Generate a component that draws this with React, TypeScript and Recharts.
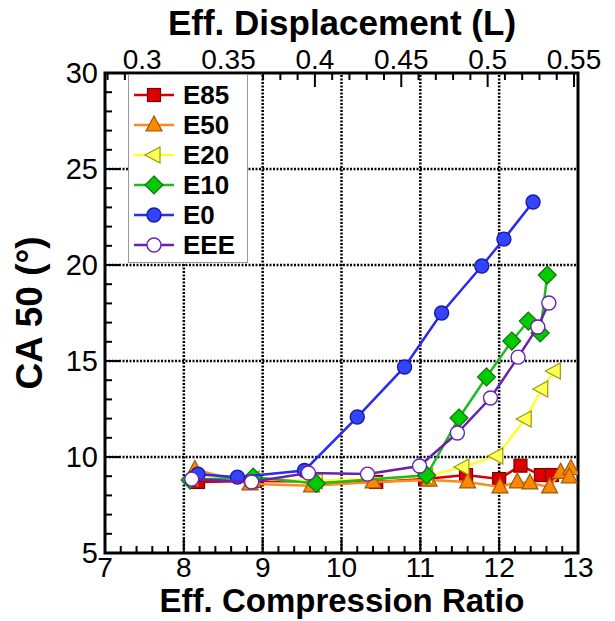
import React from 'react';
import { ScatterChart, Scatter, XAxis, YAxis, ReferenceLine, ReferenceArea } from 'recharts';

// ---- data (Eff. compression ratio, CA50 deg) ----
const E85 = [[8.18, 8.7], [8.9, 8.75], [10.44, 8.7], [11.06, 8.85], [11.58, 9.06], [12.0, 8.85], [12.27, 9.55], [12.53, 9.06], [12.67, 9.06]];
const E50 = [[8.14, 9.35], [8.84, 8.6], [9.62, 8.5], [10.4, 8.7], [11.11, 8.8], [11.6, 8.7], [12.01, 8.44], [12.23, 8.7], [12.39, 8.65], [12.64, 8.44], [12.78, 9.2], [12.91, 9.4], [12.89, 8.96]];
const E20 = [[8.1, 8.9], [8.88, 8.85], [9.68, 8.75], [11.08, 9.0], [11.54, 9.48], [11.97, 10.05], [12.33, 11.98], [12.54, 13.54], [12.7, 14.48]];
const E10 = [[8.08, 8.8], [8.88, 8.95], [9.68, 8.62], [11.08, 9.05], [11.49, 12.03], [11.84, 14.17], [12.16, 16.04], [12.37, 17.08], [12.52, 16.46], [12.61, 19.48]];
const E0 = [[8.18, 9.1], [8.68, 8.95], [9.53, 9.3], [10.2, 12.08], [10.8, 14.69], [11.27, 17.5], [11.78, 19.95], [12.06, 21.35], [12.43, 23.28]];
const EEE = [[8.1, 8.85], [8.86, 8.7], [9.58, 9.17], [10.33, 9.11], [10.99, 9.53], [11.47, 11.25], [11.89, 13.07], [12.24, 15.2], [12.49, 16.77], [12.63, 18.02]];

const seriesNames = ['E85', 'E50', 'E20', 'E10', 'E0', 'EEE'];
const seriesData = [E85, E50, E20, E10, E0, EEE];

const crMajor = [7, 8, 9, 10, 11, 12, 13];
const caMajor = [5, 10, 15, 20, 25, 30];
const dispMajor = [0.3, 0.35, 0.4, 0.45, 0.5, 0.55];
const crGrid = [8, 9, 10, 11, 12];
const caGrid = [10, 15, 20, 25];

const crTicks: number[] = [];
for (let i = 0; i <= 30; i++) crTicks.push(+(7 + i * 0.2).toFixed(2));
const caTicks: number[] = [];
for (let i = 5; i <= 30; i++) caTicks.push(i);
const dispTicks: number[] = [];
for (let i = 28; i <= 55; i++) dispTicks.push(+(i / 100).toFixed(2));

const styles: Record<string, any> = {
  E85: { line: '#d40000', fill: '#dd0000', stroke: '#7a0000', shape: 'square' },
  E50: { line: '#ff8a1c', fill: '#ff8800', stroke: '#9a5a10', shape: 'triUp' },
  E20: { line: '#ffff30', fill: '#ffff55', stroke: '#9a9a10', shape: 'triLeft' },
  E10: { line: '#22b822', fill: '#00cc00', stroke: '#137013', shape: 'diamond' },
  E0: { line: '#2a2af0', fill: '#3344ff', stroke: '#1a1aa0', shape: 'circle' },
  EEE: { line: '#6a20b0', fill: '#ffffff', stroke: '#6a20b0', shape: 'circle' },
};

const FONT = '"Liberation Sans", Arial, Helvetica, sans-serif';

function Marker({ cx, cy, name }: { cx: number; cy: number; name: string }) {
  const s = styles[name];
  const sw = 1.2;
  switch (s.shape) {
    case 'square':
      return <rect x={cx - 6.5} y={cy - 6.5} width={13} height={13} fill={s.fill} stroke={s.stroke} strokeWidth={sw} />;
    case 'triUp':
      return <polygon points={`${cx},${cy - 9} ${cx - 8},${cy + 6} ${cx + 8},${cy + 6}`} fill={s.fill} stroke={s.stroke} strokeWidth={sw} />;
    case 'triLeft':
      return <polygon points={`${cx - 9},${cy} ${cx + 6},${cy - 8} ${cx + 6},${cy + 8}`} fill={s.fill} stroke={s.stroke} strokeWidth={sw} />;
    case 'diamond':
      return <polygon points={`${cx},${cy - 9} ${cx + 9},${cy} ${cx},${cy + 9} ${cx - 9},${cy}`} fill={s.fill} stroke={s.stroke} strokeWidth={sw} />;
    default:
      return <circle cx={cx} cy={cy} r={7} fill={s.fill} stroke={s.stroke} strokeWidth={1.4} />;
  }
}

const isMajor = (v: number, arr: number[]) => arr.some((m) => Math.abs(m - v) < 1e-6);

const LeftTick = (p: any) => {
  const { x, y, payload } = p;
  const v = payload.value;
  const major = isMajor(v, caMajor);
  return (
    <g>
      <line x1={x} x2={x + (major ? 14 : 7)} y1={y} y2={y} stroke="#000" strokeWidth={2} />
      {major && (
        <text x={x - 7} y={y + 10} textAnchor="end" fontFamily={FONT} fontSize={29} fill="#000">
          {v}
        </text>
      )}
    </g>
  );
};

const BottomTick = (p: any) => {
  const { x, y, payload } = p;
  const v = payload.value;
  const major = isMajor(v, crMajor);
  return (
    <g>
      <line x1={x} x2={x} y1={y} y2={y - (major ? 14 : 7)} stroke="#000" strokeWidth={2} />
      {major && (
        <text x={x} y={y + 24} textAnchor="middle" fontFamily={FONT} fontSize={28} fill="#000">
          {v}
        </text>
      )}
    </g>
  );
};

const TopTick = (p: any) => {
  const { x, y, payload } = p;
  const v = payload.value;
  const major = isMajor(v, dispMajor);
  return (
    <g>
      <line x1={x} x2={x} y1={y} y2={y + (major ? 14 : 7)} stroke="#000" strokeWidth={2} />
      {major && (
        <text x={x} y={y - 4} textAnchor="middle" fontFamily={FONT} fontSize={28} fill="#000">
          {v}
        </text>
      )}
    </g>
  );
};

function LegendBox() {
  return (
    <div
      style={{
        position: 'absolute',
        left: 128,
        top: 74,
        width: 120,
        height: 189,
        background: '#fff',
        border: '1.5px solid #999',
        boxSizing: 'border-box',
      }}
    >
      <svg width={120} height={189}>
        {seriesNames.map((n, i) => {
          const y = 20 + i * 30;
          return (
            <g key={n}>
              <line x1={5} x2={45} y1={y} y2={y} stroke={styles[n].line} strokeWidth={2.5} />
              <Marker cx={25} cy={y} name={n} />
              <text x={54} y={y + 9} fontFamily={FONT} fontWeight="bold" fontSize={26} fill="#000">
                {n}
              </text>
            </g>
          );
        })}
      </svg>
    </div>
  );
}

const dispAnchor = dispMajor.map((x) => ({ x, y: 5 }));

export default function App() {
  return (
    <div style={{ position: 'absolute', left: 0, top: 0, width: 615, height: 621, background: '#fff' }}>
      <ScatterChart width={615} height={621} margin={{ top: 0, right: 37, bottom: 0, left: 0 }}>
        <XAxis
          xAxisId="cr"
          type="number"
          dataKey="x"
          domain={[7, 13]}
          ticks={crTicks}
          interval={0}
          height={68}
          tickSize={0}
          tickMargin={0}
          axisLine={false}
          tick={<BottomTick />}
          allowDataOverflow
        />
        <XAxis
          xAxisId="disp"
          orientation="top"
          type="number"
          dataKey="x"
          domain={[0.2785, 0.5523]}
          ticks={dispTicks}
          interval={0}
          height={73}
          tickSize={0}
          tickMargin={0}
          axisLine={false}
          tick={<TopTick />}
          allowDataOverflow
        />
        <YAxis
          yAxisId="ca"
          type="number"
          dataKey="y"
          domain={[5, 30]}
          ticks={caTicks}
          interval={0}
          width={105}
          tickSize={0}
          tickMargin={0}
          axisLine={false}
          tick={<LeftTick />}
          allowDataOverflow
        />
        {crGrid.map((g) => (
          <ReferenceLine key={'vx' + g} xAxisId="cr" yAxisId="ca" x={g} stroke="#000" strokeWidth={2.5} strokeDasharray="2 1.5" />
        ))}
        {caGrid.map((g) => (
          <ReferenceLine key={'hy' + g} xAxisId="cr" yAxisId="ca" y={g} stroke="#000" strokeWidth={2.5} strokeDasharray="2 1.5" />
        ))}
        <ReferenceArea xAxisId="cr" yAxisId="ca" x1={7} x2={13} y1={5} y2={30} fill="none" stroke="#000" strokeWidth={3} ifOverflow="visible" />
        <Scatter
          name="disp-anchor"
          xAxisId="disp"
          yAxisId="ca"
          data={dispAnchor}
          shape={() => <g />}
          legendType="none"
          isAnimationActive={false}
        />
        {seriesNames.map((n, i) => (
          <Scatter
            key={n}
            name={n}
            xAxisId="cr"
            yAxisId="ca"
            data={seriesData[i].map(([x, y]) => ({ x, y }))}
            line={{ stroke: styles[n].line, strokeWidth: 2.5 }}
            lineJointType="linear"
            shape={(p: any) => <Marker cx={p.cx} cy={p.cy} name={n} />}
            isAnimationActive={false}
          />
        ))}
      </ScatterChart>
      <svg width={615} height={621} style={{ position: 'absolute', left: 0, top: 0, pointerEvents: 'none' }}>
        <text x={342} y={35} textAnchor="middle" fontFamily={FONT} fontWeight="bold" fontSize={35} fill="#000">
          Eff. Displacement (L)
        </text>
        <text x={342} y={612} textAnchor="middle" fontFamily={FONT} fontWeight="bold" fontSize={33} fill="#000">
          Eff. Compression Ratio
        </text>
        <text
          x={0}
          y={0}
          transform="translate(42, 313) rotate(-90)"
          textAnchor="middle"
          fontFamily={FONT}
          fontWeight="bold"
          fontSize={37}
          fill="#000"
        >
          CA 50 (°)
        </text>
      </svg>
      <LegendBox />
    </div>
  );
}
